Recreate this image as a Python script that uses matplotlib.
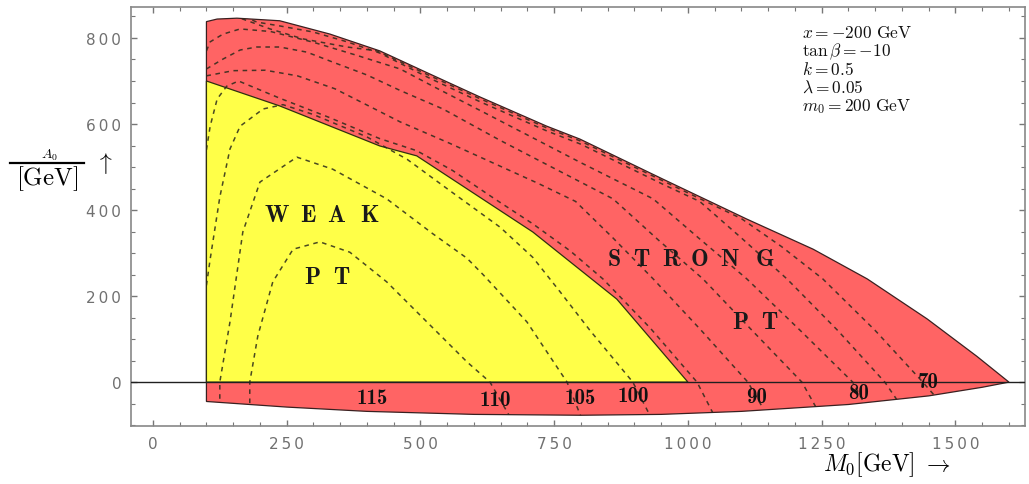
import matplotlib
matplotlib.use("Agg")
import matplotlib.pyplot as plt
from matplotlib.patches import Polygon
from matplotlib.lines import Line2D
from matplotlib.ticker import MultipleLocator, FuncFormatter

plt.rcParams['mathtext.fontset'] = 'cm'

# ---------------- data ----------------
outer_top_x = [100, 100, 120, 157, 237, 331, 424, 518, 611, 736, 798, 953, 1110, 1234, 1335, 1447, 1540, 1600]
outer_top_y = [-45, 838, 844, 846, 840, 809, 770, 716, 663, 595, 565, 472, 379, 309, 240, 147, 60, 0]
outer_bot_x = [1550, 1450, 1300, 1100, 950, 800, 600, 400, 250, 100]
outer_bot_y = [-12, -32, -52, -68, -75, -77, -75, -68, -58, -45]

weak_x = [100, 100, 237, 424, 493, 710, 867, 1000]
weak_y = [0, 700, 642, 549, 526, 349, 193, 0]

l110_x = [181, 181, 196, 224, 262, 312, 368, 437, 512, 587, 630, 667]
l110_y = [-70, 0, 107, 233, 309, 326, 302, 233, 140, 47, 0, -80]
l105_x = [125, 125, 144, 168, 200, 269, 336, 437, 523, 587, 617, 699, 774, 800]
l105_y = [-60, 0, 140, 349, 465, 523, 495, 426, 345, 288, 250, 140, 0, -80]
l100_x = [100, 107, 125, 144, 163, 206, 243, 300, 400, 475, 555, 649, 710, 761, 817, 897, 930]
l100_y = [225, 286, 430, 542, 595, 635, 645, 622, 570, 518, 445, 360, 290, 210, 120, 0, -80]
l95_x = [100, 107, 120, 138, 160, 237, 330, 424, 493, 560, 640, 710, 780, 841, 930, 1017, 1050]
l95_y = [540, 595, 658, 688, 700, 660, 615, 566, 538, 492, 425, 368, 305, 240, 125, 0, -80]
l90_x = [100, 150, 210, 270, 340, 462, 555, 649, 720, 790, 860, 935, 1025, 1112, 1140]
l90_y = [712, 724, 725, 712, 682, 605, 555, 502, 462, 420, 335, 240, 120, 0, -60]
l85_x = [100, 131, 163, 194, 237, 288, 336, 400, 462, 542, 649, 742, 860, 945, 1028, 1120, 1213, 1240]
l85_y = [728, 751, 772, 779, 779, 767, 744, 714, 678, 635, 562, 502, 426, 330, 240, 120, 0, -60]
l80_x = [100, 107, 131, 163, 220, 300, 380, 462, 523, 617, 710, 800, 935, 1020, 1110, 1210, 1308, 1330]
l80_y = [770, 791, 809, 821, 815, 790, 760, 728, 688, 628, 568, 510, 426, 335, 240, 120, 0, -50]
l75_x = [170, 194, 237, 299, 363, 424, 518, 611, 736, 800, 953, 1022, 1100, 1185, 1280, 1368, 1390]
l75_y = [850, 837, 828, 814, 791, 765, 706, 652, 584, 553, 460, 420, 335, 240, 120, 0, -40]
l70_x = [150, 219, 280, 363, 419, 518, 611, 736, 798, 953, 1100, 1175, 1252, 1350, 1439, 1460]
l70_y = [852, 821, 798, 779, 770, 712, 659, 591, 561, 468, 380, 315, 240, 120, 0, -30]

label_text = ['115', '110', '105', '100', '90', '80', '70']
label_x = [409, 639, 798, 897, 1129, 1318, 1449]
label_y = [-35, -40, -35, -30, -33, -23, 2]

param_lines = [r'$x = -200\ \mathrm{GeV}$', r'$\tan\beta = -10$', r'$k = 0.5$',
               r'$\lambda = 0.05$', r'$m_0 = 200\ \mathrm{GeV}$']

weak_letters = ['W', 'E', 'A', 'K']
weak_letter_x = [232, 290, 342, 404]
weak_pt_letters = ['P', 'T']
weak_pt_x = [297, 353]
strong_letters = ['S', 'T', 'R', 'O', 'N', 'G']
strong_letter_x = [862, 912, 968, 1022, 1077, 1144]
strong_pt_letters = ['P', 'T']
strong_pt_x = [1097, 1153]

# ---------------- figure ----------------
fig = plt.figure(figsize=(10.29, 4.85), dpi=100)
ax = fig.add_axes([131/1029, 1-427/485, (1025-131)/1029, (427-8)/485])
ax.set_xlim(-41, 1630)
ax.set_ylim(-102, 872)

red = '#ff6464'
yellow = '#ffff48'

outer_pts = list(zip(outer_top_x + outer_bot_x, outer_top_y + outer_bot_y))
outer = Polygon(outer_pts, closed=True, facecolor=red, edgecolor='#3a2020', lw=0.9, zorder=1)
ax.add_patch(outer)
weak = Polygon(list(zip(weak_x, weak_y)), closed=True, facecolor=yellow,
               edgecolor='#303010', lw=0.9, zorder=2)
ax.add_patch(weak)

clip = Polygon(outer_pts, closed=True, transform=ax.transData, visible=False)
ax.add_patch(clip)

for xs, ys in [(l110_x, l110_y), (l105_x, l105_y), (l100_x, l100_y), (l95_x, l95_y),
               (l90_x, l90_y), (l85_x, l85_y), (l80_x, l80_y), (l75_x, l75_y), (l70_x, l70_y)]:
    ln, = ax.plot(xs, ys, color='#2a2a1a', lw=1.1, ls=(0, (3, 3)), alpha=0.85, zorder=3)
    ln.set_clip_path(clip)

ax.axhline(0, color='#202020', lw=1.0, zorder=4)

for t, x, y in zip(label_text, label_x, label_y):
    ax.text(x, y, t, family='cmb10', ha='center', va='center', fontsize=15,
            color='#111111', zorder=5)

def letters(chars, xs, y):
    for c, x in zip(chars, xs):
        ax.text(x, y, c, family='cmb10', fontsize=17, ha='center', va='center',
                color='#1a1a1a', zorder=5)

letters(weak_letters, weak_letter_x, 388)
letters(weak_pt_letters, weak_pt_x, 244)
letters(strong_letters, strong_letter_x, 286)
letters(strong_pt_letters, strong_pt_x, 140)

param_y = [814, 770, 728, 686, 642]
for s, y in zip(param_lines, param_y):
    ax.text(1213, y, s, ha='left', va='center', fontsize=12.5, color='#111111')

# axes styling
for sp in ax.spines.values():
    sp.set_color('#888888')
    sp.set_linewidth(1.2)
ax.xaxis.set_major_locator(MultipleLocator(250))
ax.xaxis.set_minor_locator(MultipleLocator(50))
ax.yaxis.set_major_locator(MultipleLocator(200))
ax.yaxis.set_minor_locator(MultipleLocator(50))
spaced = FuncFormatter(lambda v, p: '\u2009'.join(str(int(round(v)))))
ax.xaxis.set_major_formatter(spaced)
ax.yaxis.set_major_formatter(spaced)
ax.tick_params(which='both', direction='in', top=True, right=True, color='#777777')
ax.tick_params(which='major', length=4, width=1)
ax.tick_params(which='minor', length=3, width=0.8)
ax.tick_params(axis='both', labelsize=11, labelcolor='#707070', pad=7)
for lab in ax.get_xticklabels() + ax.get_yticklabels():
    lab.set_family('DejaVu Sans')

# y label: A0 / [GeV]  with arrow
fig.text(49/1029, 1-155/485, r'$A_0$', fontsize=10, ha='center', va='center')
fig.add_artist(Line2D([10/1029, 84/1029], [1-164/485, 1-164/485], color='black', lw=1.6))
fig.text(47/1029, 1-179/485, r'$[\mathrm{GeV}]$', fontsize=18, ha='center', va='center')
fig.text(104/1029, 1-163/485, r'$\uparrow$', fontsize=17, ha='center', va='center')
fig.text(823/1029, 1-465/485, r'$M_0[\mathrm{GeV}]\ \rightarrow$', fontsize=17, ha='left', va='center')

fig.savefig('out.png', dpi=100)
